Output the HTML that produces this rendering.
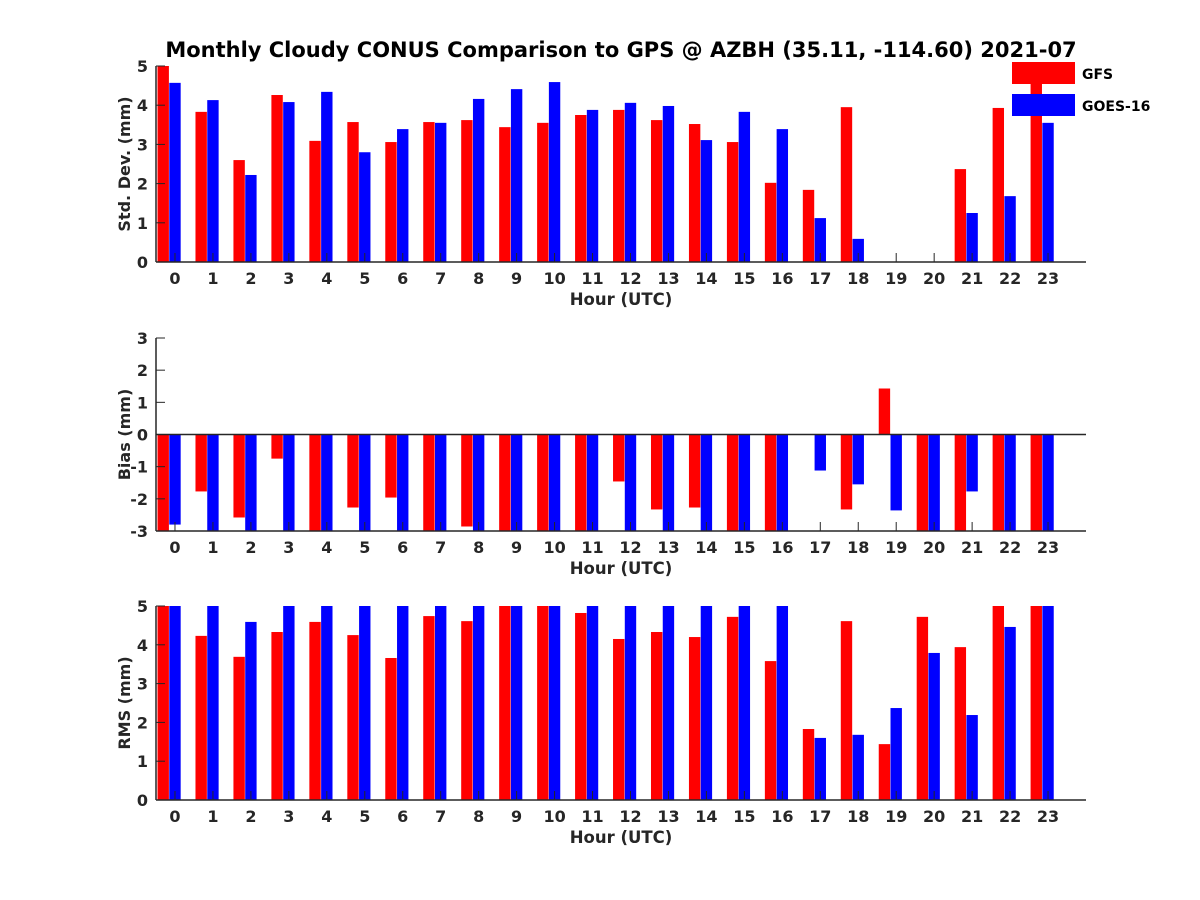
<!DOCTYPE html>
<html><head><meta charset="utf-8"><style>
body{margin:0;background:#fff}
svg{display:block;font-family:"DejaVu Sans","Liberation Sans",sans-serif;font-weight:bold}
</style></head><body>
<svg id="c" width="1200" height="900" viewBox="0 0 1200 900">
<text x="621" y="57" text-anchor="middle" font-size="21" fill="#000">Monthly Cloudy CONUS Comparison to GPS @ AZBH (35.11, -114.60) 2021-07</text>
</svg>
<script>
const hours=[0,1,2,3,4,5,6,7,8,9,10,11,12,13,14,15,16,17,18,19,20,21,22,23];
const stdGFS=[5.2,3.83,2.6,4.26,3.09,3.57,3.06,3.57,3.62,3.44,3.55,3.75,3.88,3.62,3.52,3.06,2.02,1.84,3.95,null,null,2.37,3.93,5.2];
const stdGOES=[4.57,4.13,2.22,4.08,4.34,2.8,3.39,3.55,4.16,4.41,4.59,3.88,4.06,3.98,3.11,3.83,3.39,1.12,0.59,null,null,1.25,1.68,3.55];
const biasGFS=[-3.2,-1.77,-2.58,-0.75,-3.2,-2.27,-1.96,-3.2,-2.86,-3.2,-3.2,-3.2,-1.46,-2.33,-2.27,-3.2,-3.2,null,-2.33,1.43,-3.2,-3.2,-3.2,-3.2];
const biasGOES=[-2.8,-3.2,-3.2,-3.2,-3.2,-3.2,-3.2,-3.2,-3.2,-3.2,-3.2,-3.2,-3.2,-3.2,-3.2,-3.2,-3.2,-1.12,-1.55,-2.36,-3.2,-1.77,-3.2,-3.2];
const rmsGFS=[5.2,4.23,3.69,4.33,4.59,4.25,3.66,4.74,4.61,5.2,5.2,4.82,4.15,4.33,4.2,4.72,3.58,1.83,4.61,1.44,4.72,3.94,5.2,5.2];
const rmsGOES=[5.2,5.2,4.59,5.2,5.2,5.2,5.2,5.2,5.2,5.2,5.2,5.2,5.2,5.2,5.2,5.2,5.2,1.6,1.68,2.37,3.79,2.19,4.46,5.2];
const stdTicks=[0,1,2,3,4,5], biasTicks=[-3,-2,-1,0,1,2,3], rmsTicks=[0,1,2,3,4,5];

const svg=document.getElementById('c');const NS='http://www.w3.org/2000/svg';
function mk(t,a,p){const e=document.createElementNS(NS,t);for(const k in a)e.setAttribute(k,a[k]);(p||svg).appendChild(e);return e;}
const X0=156,X1=1086;
const xs=h=>X0+(h+0.5)*(X1-X0)/24.5;
const bw=0.3*(X1-X0)/24.5;
function panel(name,top,bot,ymin,ymax,ticks,gfs,goes,ylabel){
  const g=mk('g',{});
  
  
  const ys=v=>bot-(Math.max(ymin,Math.min(ymax,v))-ymin)/(ymax-ymin)*(bot-top);
  const base=ys(Math.max(ymin,0));
  const cp='clip-'+name;
  const cpe=mk('clipPath',{id:cp},g);mk('rect',{x:X0,y:top,width:X1-X0,height:bot-top},cpe);
  const bars=mk('g',{'clip-path':'url(#'+cp+')'},g);
  hours.forEach((h,i)=>{
    [[gfs[i],'#ff0000',-0.31,'gfs'],[goes[i],'#0000ff',0,'goes']].forEach(([v,c,off,s])=>{
      if(v==null)return;
      const y=ys(v);
      const r=mk('rect',{x:xs(h+off)-bw/2,y:Math.min(y,base),width:bw,height:Math.abs(y-base),fill:c},bars);
      
      
    });
  });
  hours.forEach(h=>{
    mk('line',{x1:xs(h),x2:xs(h),y1:bot,y2:bot-9,stroke:'#262626','stroke-width':1},g);
    const t=mk('text',{x:xs(h),y:bot+22,'text-anchor':'middle','font-size':16,fill:'#262626'},g);t.textContent=h;
    
    
  });
  ticks.forEach(v=>{
    mk('line',{x1:X0,x2:X0+9,y1:ys(v),y2:ys(v),stroke:'#262626'},g);
    const t=mk('text',{x:X0-8,y:ys(v)+6,'text-anchor':'end','font-size':16,fill:'#262626'},g);t.textContent=v;
    
    
  });
  if(ymin<0) mk('line',{x1:X0,x2:X1,y1:base,y2:base,stroke:'#262626','stroke-width':1.5},g);
  mk('line',{x1:X0,x2:X0,y1:top,y2:bot,stroke:'#262626','stroke-width':1.5},g);
  mk('line',{x1:X0,x2:X1,y1:bot,y2:bot,stroke:'#262626','stroke-width':1.5},g);
  const xl=mk('text',{x:621,y:bot+43,'text-anchor':'middle','font-size':16.5,fill:'#262626'},g);xl.textContent='Hour (UTC)';
  
  
  const yl=mk('text',{x:0,y:0,'text-anchor':'middle','font-size':16,fill:'#262626',transform:`translate(130,${(top+bot)/2}) rotate(-90)`},g);yl.textContent=ylabel;
  
  
}
panel('std',66,262,0,5,stdTicks,stdGFS,stdGOES,'Std. Dev. (mm)');
panel('bias',338,531,-3,3,biasTicks,biasGFS,biasGOES,'Bias (mm)');
panel('rms',606,800,0,5,rmsTicks,rmsGFS,rmsGOES,'RMS (mm)');
const lg=mk('g',{});


[['GFS','#ff0000',62],['GOES-16','#0000ff',94]].forEach(([n,c,y])=>{
  const e=mk('g',{},lg);
  
  
  mk('rect',{x:1012,y:y,width:63,height:22,fill:c},e);
  const t=mk('text',{x:1082,y:y+17,'font-size':14,fill:'#000'},e);t.textContent=n;
});
</script>
</body></html>
